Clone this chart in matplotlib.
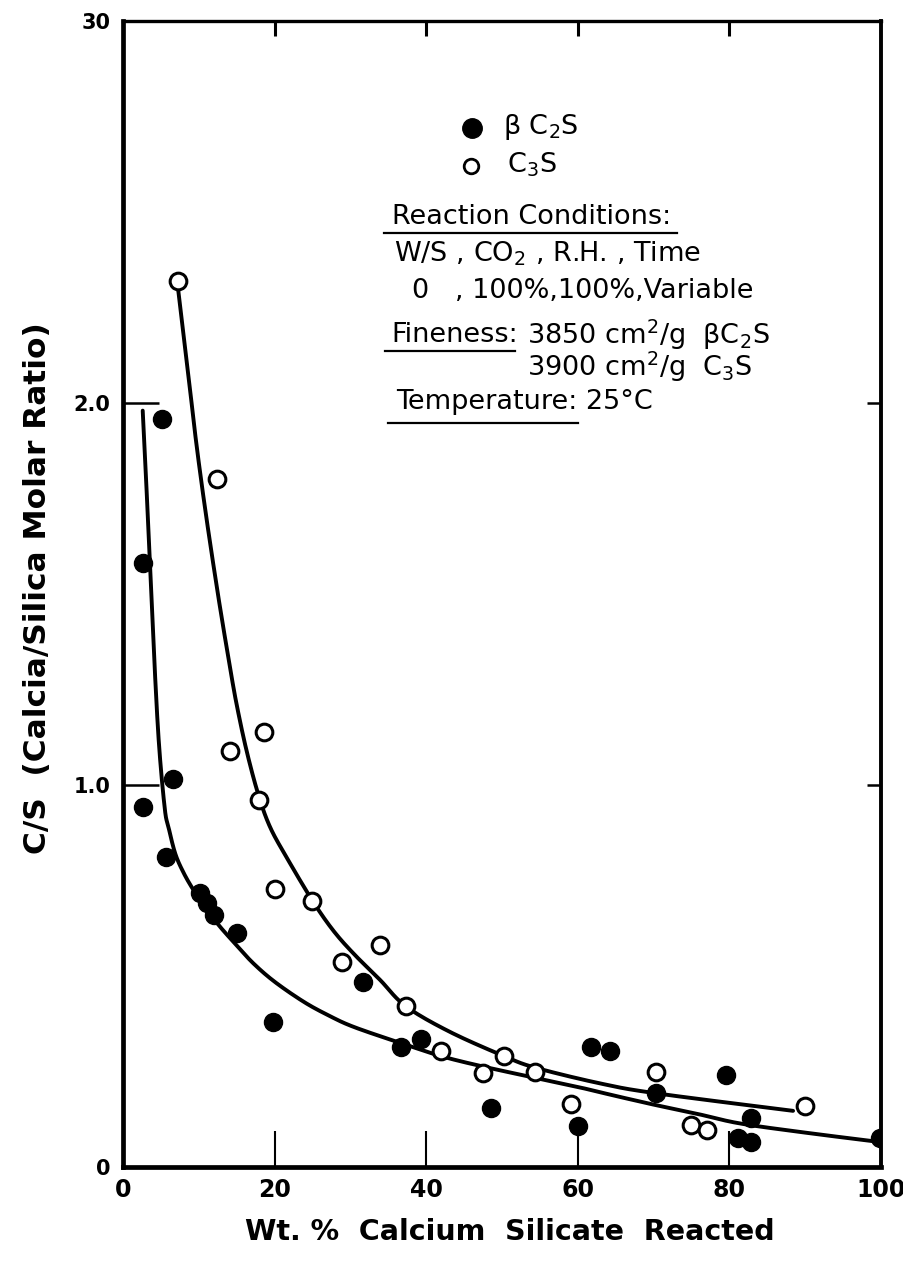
import numpy as np
import matplotlib
matplotlib.use('Agg')
import matplotlib.pyplot as plt
from matplotlib.lines import Line2D

plt.rcParams['font.family'] = ['DejaVu Sans']
plt.rcParams['mathtext.default'] = 'regular'

# beta C2S (filled circles)
c2s_x = [2.6, 2.7, 5.1, 6.6, 5.7, 10.2, 11.1, 12.0, 15.1, 19.8, 31.6, 36.7, 39.3,
         48.6, 61.8, 64.3, 60.0, 70.3, 79.6, 82.9, 81.2, 82.9, 99.9]
c2s_y = [0.943, 1.58, 1.957, 1.016, 0.812, 0.718, 0.69, 0.66, 0.612, 0.379, 0.485,
         0.315, 0.335, 0.154, 0.313, 0.304, 0.108, 0.193, 0.241, 0.127, 0.075, 0.066, 0.075]

# C3S (open circles)
c3s_x = [7.2, 12.4, 18.6, 14.1, 17.9, 20.05, 25.0, 33.9, 28.9, 37.3, 41.9, 47.5,
         50.3, 54.4, 59.1, 70.3, 75.0, 77.0, 90.0]
c3s_y = [2.32, 1.80, 1.14, 1.09, 0.96, 0.727, 0.697, 0.581, 0.537, 0.421, 0.304,
         0.245, 0.29, 0.25, 0.164, 0.25, 0.11, 0.097, 0.16]

# hand drawn curves
c2s_fit_x = [2.6, 3.0, 3.5, 4.0, 4.7, 5.5, 6.0, 6.9, 8.0, 9.3, 11.0, 12.8, 15.0, 17.2,
             20.0, 23.8, 27.0, 30.4, 36.7, 42.0, 47.5, 54.0, 59.9, 65.0, 70.3, 76.0,
             81.4, 90.0, 100.0]
c2s_fit_y = [1.98, 1.82, 1.60, 1.38, 1.12, 0.94, 0.89, 0.82, 0.77, 0.725, 0.675, 0.629,
             0.58, 0.533, 0.485, 0.433, 0.398, 0.367, 0.324, 0.29, 0.263, 0.235, 0.21,
             0.186, 0.162, 0.138, 0.114, 0.09, 0.065]
c3s_fit_x = [7.2, 8.7, 9.7, 11.0, 12.6, 14.1, 15.0, 16.3, 17.85, 19.4, 21.6, 25.0, 27.7,
             30.4, 33.9, 37.3, 43.1, 50.3, 54.4, 62.9, 70.3, 88.4]
c3s_fit_y = [2.31, 2.06, 1.89, 1.70, 1.49, 1.31, 1.21, 1.09, 0.975, 0.89, 0.81, 0.697,
             0.62, 0.559, 0.49, 0.421, 0.354, 0.29, 0.26, 0.219, 0.193, 0.147]

xticks = [0, 20, 40, 60, 80, 100]
yticks = [0, 1, 2, 3]
ytick_labels = ['0', '1.0', '2.0', '30']


def smooth(xs, ys, n=16):
    # catmull-rom through the read points, only for drawing
    p = np.column_stack([xs, ys])
    p = np.vstack([p[0], p, p[-1]])
    t = np.linspace(0, 1, n, endpoint=False)[:, None]
    out = []
    for i in range(1, len(p) - 2):
        p0, p1, p2, p3 = p[i - 1], p[i], p[i + 1], p[i + 2]
        out.append(0.5 * (2 * p1 + (p2 - p0) * t
                          + (2 * p0 - 5 * p1 + 4 * p2 - p3) * t ** 2
                          + (3 * p1 - p0 - 3 * p2 + p3) * t ** 3))
    out.append(p[-2][None])
    out = np.vstack(out)
    return out[:, 0], out[:, 1]


W, H = 904, 1261
fig = plt.figure(figsize=(W / 100, H / 100), dpi=100)
ax = fig.add_axes([123 / W, 1 - 1167 / H, (881 - 123) / W, (1167 - 21) / H])


def fx(px):
    return px / W


def fy(py):
    return 1 - py / H


ax.plot(*smooth(c2s_fit_x, c2s_fit_y), color='black', lw=2.8, solid_capstyle='round')
ax.plot(*smooth(c3s_fit_x, c3s_fit_y), color='black', lw=2.8, solid_capstyle='round')
ax.plot(c2s_x, c2s_y, 'o', ms=13, color='black', zorder=4)
ax.plot(c3s_x, c3s_y, 'o', ms=12, mfc='white', mec='black', mew=2.2, zorder=5)

ax.set_xlim(0, 100)
ax.set_ylim(0, 3)
ax.set_xticks(xticks)
ax.set_xticklabels([str(t) for t in xticks], fontweight='bold')
ax.set_yticks(yticks)
ax.set_yticklabels(ytick_labels, fontweight='bold')
ax.tick_params(axis='x', direction='in', length=26, width=1.5, labelsize=17, pad=8)
ax.tick_params(axis='y', direction='in', length=26, width=1.8, labelsize=15, pad=9)

for side, lw in [('left', 3.4), ('bottom', 3.4), ('top', 2.4), ('right', 2.8)]:
    ax.spines[side].set_linewidth(lw)

sx = ax.secondary_xaxis('top')
sx.set_xticks([20, 40, 60, 80])
sx.tick_params(direction='in', length=11, width=2.2, labeltop=False)
sx.spines['top'].set_visible(False)
sy = ax.secondary_yaxis('right')
sy.set_yticks([1, 2])
sy.tick_params(direction='in', length=10, width=1.8, labelright=False)
sy.spines['right'].set_visible(False)

fig.text(fx(510), fy(1232), 'Wt. %  Calcium  Silicate  Reacted', fontsize=20.5,
         fontweight='bold', ha='center', va='center')
fig.text(fx(38), fy(588), 'C/S  (Calcia/Silica Molar Ratio)', fontsize=22.5,
         fontweight='bold', ha='center', va='center', rotation=90)

# legend and notes
fig.add_artist(Line2D([fx(472)], [fy(128)], marker='o', ms=14, color='black',
                      transform=fig.transFigure))
fig.add_artist(Line2D([fx(471)], [fy(166)], marker='o', ms=10.5, mfc='white', mec='black',
                      mew=2, transform=fig.transFigure))
fs = 19.5
fig.text(fx(503), fy(127), r'$\beta$ C$_2$S', fontsize=fs, va='center')
fig.text(fx(507), fy(165), r'C$_3$S', fontsize=fs, va='center')
fig.text(fx(392), fy(217), 'Reaction Conditions:', fontsize=fs, va='center')
fig.text(fx(394), fy(254), r'W/S , CO$_2$ , R.H. , Time', fontsize=fs, va='center')
fig.text(fx(412), fy(291), '0   , 100%,100%,Variable', fontsize=fs, va='center')
fig.text(fx(391), fy(335), 'Fineness:', fontsize=fs, va='center')
fig.text(fx(527), fy(335), r'3850 cm$^2$/g  $\beta$C$_2$S', fontsize=fs, va='center')
fig.text(fx(527), fy(367), r'3900 cm$^2$/g  C$_3$S', fontsize=fs, va='center')
fig.text(fx(396), fy(402), 'Temperature: 25°C', fontsize=fs, va='center')

for x0, x1, yy in [(384, 677, 233), (385, 515, 351), (388, 578, 423)]:
    fig.add_artist(Line2D([fx(x0), fx(x1)], [fy(yy), fy(yy)], color='black', lw=1.6,
                          transform=fig.transFigure))

fig.savefig('out.png', dpi=100)
